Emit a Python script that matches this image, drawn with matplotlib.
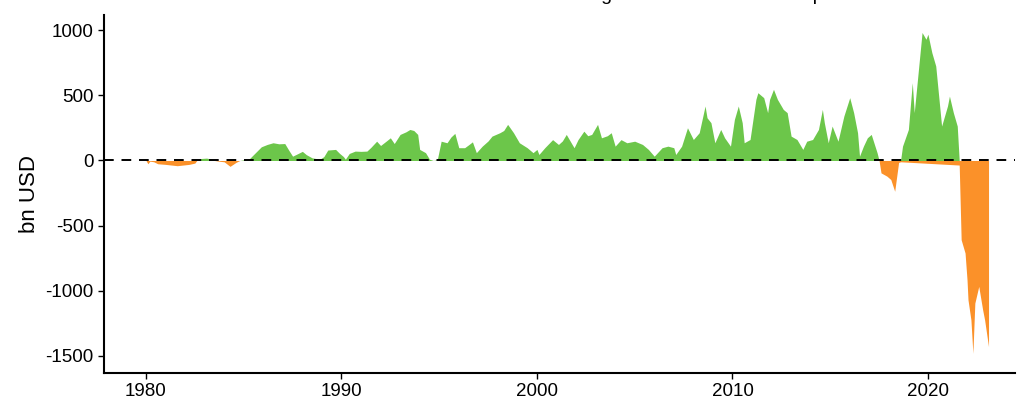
import numpy as np
import matplotlib
matplotlib.use("Agg")
import matplotlib.pyplot as plt

plt.rcParams['font.family'] = ['Liberation Sans', 'DejaVu Sans']
plt.rcParams['axes.unicode_minus'] = False

# gains (above zero)
gainYears = [1982.6, 1982.8, 1983.1, 1983.4, 1983.5,
             1984.8, 1985.0, 1985.3, 1985.6, 1985.9, 1986.2, 1986.5, 1986.8, 1987.1, 1987.3,
             1987.5, 1987.8, 1988.0, 1988.2, 1988.5, 1988.9, 1989.1, 1989.3, 1989.7, 1989.9,
             1990.1, 1990.2, 1990.4, 1990.7, 1991.0, 1991.3, 1991.5, 1991.8, 1992.0, 1992.3,
             1992.5, 1992.7, 1993.0, 1993.3, 1993.5, 1993.7, 1993.9, 1994.0, 1994.3, 1994.5,
             1994.7, 1994.9, 1995.1, 1995.4, 1995.6, 1995.8, 1996.0, 1996.3, 1996.5, 1996.7,
             1996.9, 1997.2, 1997.5, 1997.7, 1998.1, 1998.3, 1998.5, 1998.8, 1999.1, 1999.5,
             1999.8, 2000.0, 2000.1, 2000.4, 2000.8, 2001.1, 2001.3, 2001.5, 2001.8, 2001.9,
             2002.1, 2002.4, 2002.6, 2002.8, 2003.1, 2003.3, 2003.6, 2003.8, 2004.0, 2004.3,
             2004.6, 2005.0, 2005.4, 2005.7, 2006.0, 2006.4, 2006.7, 2007.0, 2007.1, 2007.4,
             2007.7, 2008.0, 2008.3, 2008.6, 2008.7, 2008.9, 2009.1, 2009.4, 2009.6, 2009.9,
             2010.1, 2010.3, 2010.5, 2010.6, 2010.9, 2011.2, 2011.3, 2011.6, 2011.8, 2011.9,
             2012.1, 2012.3, 2012.6, 2012.8, 2013.0, 2013.3, 2013.6, 2013.8, 2014.1, 2014.4,
             2014.6, 2014.7, 2014.9, 2015.1, 2015.4, 2015.7, 2016.0, 2016.2, 2016.4, 2016.5,
             2016.7, 2016.9, 2017.1, 2017.4, 2017.5,
             2018.6, 2018.7, 2019.0, 2019.2, 2019.3, 2019.6, 2019.7, 2019.9, 2020.0, 2020.2,
             2020.4, 2020.5, 2020.7, 2021.0, 2021.1, 2021.3, 2021.5, 2021.6]
gainValues = [0, 15, 18, 10, 0,
              0, 5, 15, 60, 105, 123, 136, 128, 130, 80,
              33, 55, 70, 45, 20, 10, 30, 80, 85, 55,
              30, 10, 54, 72, 70, 72, 100, 148, 115, 150,
              174, 130, 200, 220, 238, 230, 200, 85, 60, 10,
              0, 5, 148, 136, 180, 208, 98, 98, 120, 143,
              60, 110, 150, 187, 213, 230, 277, 213, 136, 98,
              60, 85, 46, 98, 160, 123, 150, 200, 123, 98,
              160, 225, 190, 200, 277, 174, 190, 213, 110, 160,
              136, 148, 123, 85, 33, 98, 110, 98, 46, 110,
              251, 161, 213, 418, 328, 290, 136, 238, 174, 110,
              315, 418, 290, 136, 161, 469, 520, 482, 367, 469,
              546, 469, 392, 367, 187, 161, 85, 148, 161, 238,
              392, 290, 136, 264, 148, 341, 482, 367, 213, 33,
              110, 174, 200, 59, 0,
              0, 110, 238, 597, 367, 828, 982, 930, 969, 828,
              725, 571, 264, 418, 494, 367, 264, 0]

# losses (below zero)
lossYears = [1980.0, 1980.1, 1980.2, 1980.4, 1980.6, 1981.0, 1981.3, 1981.6, 1981.9, 1982.2,
             1982.5, 1982.6, 1983.5, 1983.7, 1984.0, 1984.3, 1984.6, 1984.8,
             2017.5, 2017.6, 2017.9, 2018.1, 2018.3, 2018.5, 2018.6,
             2021.6, 2021.7, 2021.8, 2021.9, 2022.0, 2022.05, 2022.2, 2022.3, 2022.4, 2022.6,
             2022.8, 2022.9, 2023.1]
lossValues = [0, -25, -5, -10, -25, -30, -35, -40, -35, -30,
              -20, 0, 0, -5, -10, -45, -15, 0,
              0, -95, -120, -146, -236, -15, -10,
              -35, -608, -659, -710, -915, -1069, -1223, -1479, -1094, -966,
              -1146, -1223, -1428]

yTicks = [1000, 500, 0, -500, -1000, -1500]
xTicks = [1980, 1990, 2000, 2010, 2020]

fig = plt.figure(figsize=(10.19, 3.99), dpi=100)
ax = fig.add_axes([0.102, 0.065, 0.894, 0.897])

ax.fill_between(gainYears, 0, gainValues, color='#6cc64a', linewidth=0)
ax.fill_between(lossYears, 0, lossValues, color='#fb9129', linewidth=0)
ax.axhline(0, color='black', linestyle=(0, (5, 4)), linewidth=1.4)

ax.set_xlim(1977.85, 2024.45)
ax.set_ylim(-1631, 1115)
ax.set_xticks(xTicks)
ax.set_yticks(yTicks)
ax.tick_params(labelsize=13.5, length=4, width=1, colors='black')
ax.set_ylabel('bn USD', fontsize=16)
for side in ['top', 'right']:
    ax.spines[side].set_visible(False)
for side in ['left', 'bottom']:
    ax.spines[side].set_linewidth(1.5)

# title sits mostly above the canvas, only descenders show
fig.text(0.4931, 1.0, 'Unrealized gains and losses on the portfolio', fontsize=14,
         ha='left', va='baseline')

fig.savefig('out.png', dpi=100)
